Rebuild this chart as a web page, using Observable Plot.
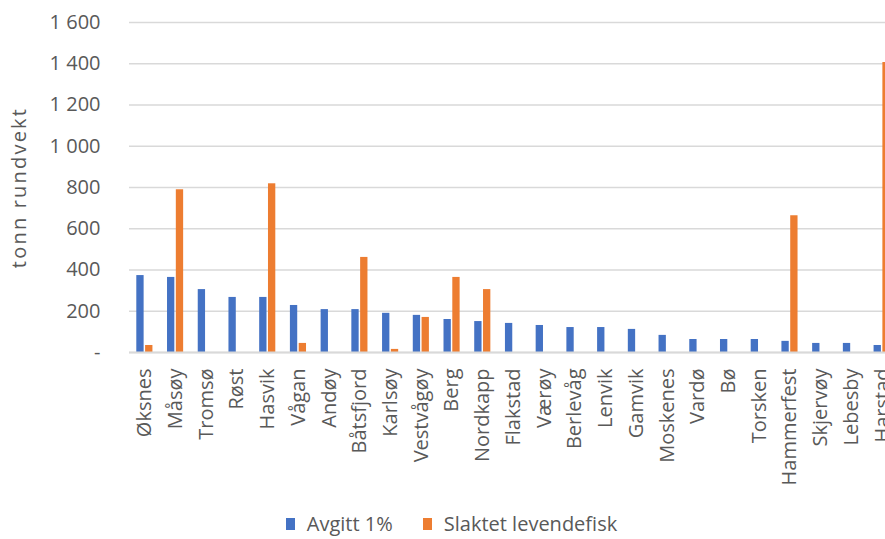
<!DOCTYPE html>
<html>
<head>
<meta charset="utf-8">
<script src="https://cdn.jsdelivr.net/npm/d3@7"></script>
<script src="https://cdn.jsdelivr.net/npm/@observablehq/plot@0.6"></script>
<style>
  html, body { margin: 0; padding: 0; background: #fff; overflow: hidden; }
  #chart svg { display: block; }
  #chart [aria-label="y-axis label"] text { letter-spacing: 2.2px; }
  #legend { display: flex; justify-content: center; align-items: center; margin-left: 18px; height: 24px; line-height: 24px;
    font-family: "Open Sans", sans-serif; font-size: 20px; color: #595959; white-space: nowrap; }
  .sw { display: inline-block; width: 9px; height: 12px; margin-right: 12px; }
  .item { display: flex; align-items: center; margin: 0 15px; }
</style>
</head>
<body>
<div id="chart"></div>
<div id="legend"></div>
<script>
const categories = ["Øksnes","Måsøy","Tromsø","Røst","Hasvik","Vågan","Andøy","Båtsfjord","Karlsøy","Vestvågøy","Berg","Nordkapp","Flakstad","Værøy","Berlevåg","Lenvik","Gamvik","Moskenes","Vardø","Bø","Torsken","Hammerfest","Skjervøy","Lebesby","Harstad"];
const seriesNames = ["Avgitt 1%", "Slaktet levendefisk"];
const avgitt  = [373,364,305,267,267,228,208,208,190,180,160,150,141,131,121,121,112,83,63,63,63,54,44,44,34];
const slaktet = [34,789,0,0,818,44,0,461,15,170,364,305,0,0,0,0,0,0,0,0,0,663,0,0,1406];
const yTicks = [0,200,400,600,800,1000,1200,1400,1600];
const colors = ["#4472C4", "#ED7D31"];

const blueData = categories.map((c, i) => ({kommune: c, serie: seriesNames[0], value: avgitt[i]})).filter(d => d.value > 0);
const orangeData = categories.map((c, i) => ({kommune: c, serie: seriesNames[1], value: slaktet[i]})).filter(d => d.value > 0);

const fmtN = d3.formatLocale({decimal: ",", thousands: " ", grouping: [3], currency: ["", ""]}).format(",");
const fmt = d => d === 0 ? "-" : fmtN(d);

const chart = Plot.plot({
  width: 885,
  height: 512,
  marginLeft: 129,
  marginRight: 0,
  marginTop: 22,
  marginBottom: 160,
  style: {fontFamily: "'Open Sans', sans-serif", fontSize: "20px", color: "#595959", background: "#fff"},
  x: {domain: categories, range: [129, 897], padding: 0, round: false},
  y: {domain: [0, 1600], ticks: yTicks},
  color: {domain: seriesNames, range: colors},
  marks: [
    Plot.gridY(yTicks, {stroke: "#d9d9d9", strokeOpacity: 1, strokeWidth: 1.5}),
    Plot.barY(blueData, {x: "kommune", y: "value", fill: "serie", insetLeft: 11.7, insetRight: 11.7, dx: -4.4}),
    Plot.barY(orangeData, {x: "kommune", y: "value", fill: "serie", insetLeft: 11.7, insetRight: 11.7, dx: 4.4}),
    Plot.ruleY([0], {stroke: "#d9d9d9", strokeWidth: 2}),
    Plot.axisY(yTicks, {tickSize: 0, tickPadding: 29, tickFormat: fmt, fontSize: 20,
      label: "tonn rundvekt", labelAnchor: "center", labelArrow: "none", labelOffset: 118}),
    Plot.axisX({anchor: "bottom", tickRotate: -90, tickSize: 0, tickPadding: 16, fontSize: 20, label: null})
  ]
});
document.getElementById("chart").appendChild(chart);

document.getElementById("legend").innerHTML = seriesNames.map((s, i) =>
  `<span class="item"><span class="sw" style="background:${colors[i]}"></span>${s}</span>`).join("");
</script>
</body>
</html>
